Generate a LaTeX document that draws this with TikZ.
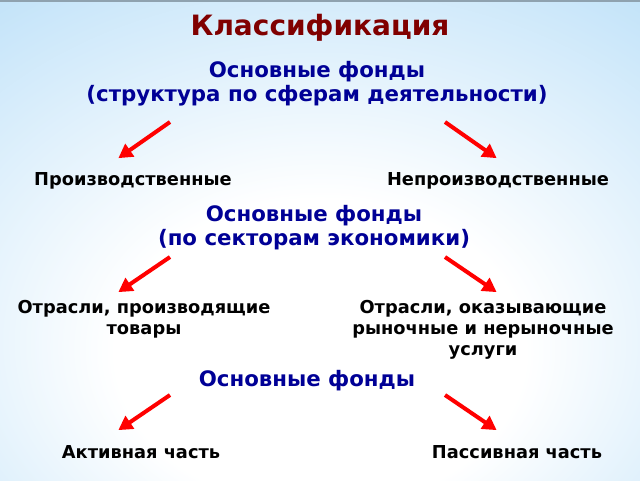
\documentclass[tikz,border=0pt]{standalone}
\usepackage{fontspec}
\setmainfont{DejaVu Sans}
\usetikzlibrary{arrows.meta}
\definecolor{bgblue}{RGB}{166,214,246}
\definecolor{titlered}{RGB}{128,0,0}
\definecolor{headblue}{RGB}{0,0,150}
\definecolor{arrred}{RGB}{255,0,0}
\pgfdeclareradialshading{bgshade}{\pgfpoint{0bp}{-14bp}}{color(0bp)=(white); color(16bp)=(white); color(54bp)=(bgblue); color(100bp)=(bgblue)}
\tikzset{
  titletext/.style={text=titlered, font=\fontsize{28}{32}\selectfont\bfseries, inner sep=0pt},
  headtext/.style={text=headblue, font=\fontsize{21.3}{24}\selectfont\bfseries, align=center, inner sep=0pt},
  labeltext/.style={text=black, font=\fontsize{17.8}{21}\selectfont\bfseries, align=center, inner sep=0pt},
  redarrow/.style={draw=arrred, line width=4pt, -{Triangle[length=14pt,width=15pt]}, shorten >=-2pt}
}
\begin{document}
\begin{tikzpicture}[x=1pt,y=-1pt]
\useasboundingbox (0,0) rectangle (640,480);
\shade[shading=bgshade] (0,0) rectangle (640,480);
\fill[gray!60!bgblue] (0,0) rectangle (640,2);

\node[titletext] (title) at (320,28) {Классификация};

\node[headtext] (h1) at (317,84) {Основные фонды\\(структура по сферам деятельности)};
\node[labeltext] (p1) at (133,181) {Производственные};
\node[labeltext] (n1) at (498,181) {Непроизводственные};

\node[headtext] (h2) at (314,228) {Основные фонды\\(по секторам экономики)};
\node[labeltext] (l2) at (144,319) {Отрасли, производящие\\товары};
\node[labeltext] (r2) at (483,330) {Отрасли, оказывающие\\рыночные и нерыночные\\услуги};

\node[headtext] (h3) at (307,381) {Основные фонды};
\node[labeltext] (a3) at (141,452) {Активная часть};
\node[labeltext] (b3) at (517,452) {Пассивная часть};

\coordinate (a1s) at (170,122); \coordinate (a1e) at (120,157);
\coordinate (b1s) at (445,122); \coordinate (b1e) at (495,157);
\coordinate (a2s) at (170,257); \coordinate (a2e) at (120,291);
\coordinate (b2s) at (445,257); \coordinate (b2e) at (495,291);
\coordinate (a3s) at (170,395); \coordinate (a3e) at (120,429);
\coordinate (b3s) at (445,395); \coordinate (b3e) at (495,429);

\draw[redarrow] (a1s) -- (a1e);
\draw[redarrow] (b1s) -- (b1e);
\draw[redarrow] (a2s) -- (a2e);
\draw[redarrow] (b2s) -- (b2e);
\draw[redarrow] (a3s) -- (a3e);
\draw[redarrow] (b3s) -- (b3e);
\end{tikzpicture}
\end{document}
